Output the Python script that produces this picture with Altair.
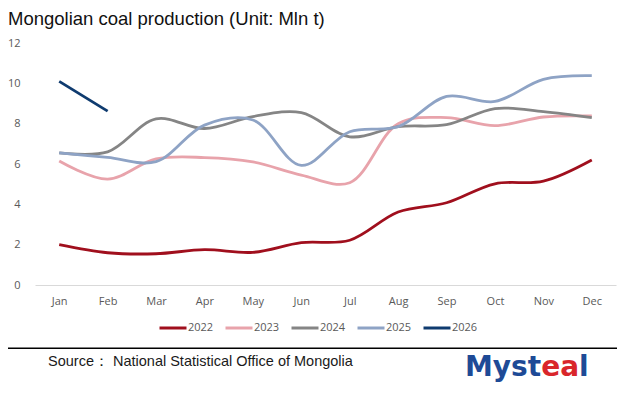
import altair as alt
import pandas as pd

months = ["Jan", "Feb", "Mar", "Apr", "May", "Jun", "Jul", "Aug", "Sep", "Oct", "Nov", "Dec"]
years = ["2022", "2023", "2024", "2025", "2026"]
v2022 = [2.0, 1.6, 1.55, 1.75, 1.62, 2.1, 2.22, 3.62, 4.08, 5.02, 5.15, 6.2]
v2023 = [6.15, 5.25, 6.25, 6.32, 6.1, 5.45, 5.07, 8.0, 8.3, 7.9, 8.33, 8.38]
v2024 = [6.55, 6.6, 8.24, 7.76, 8.35, 8.55, 7.35, 7.85, 7.95, 8.75, 8.6, 8.3]
v2025 = [6.55, 6.33, 6.12, 7.93, 8.18, 5.93, 7.6, 7.85, 9.35, 9.1, 10.2, 10.38]
v2026 = [10.1, 8.62]
colors = ["#a00f1d", "#e8a3ab", "#858585", "#8ea3c5", "#0f3b6f"]

series = [v2022, v2023, v2024, v2025, v2026]
rows = []
for yr, vals in zip(years, series):
    for m, v in zip(months, vals):
        rows.append({"month": m, "year": yr, "value": v})
df = pd.DataFrame(rows)

W, H = 581, 242

lines = alt.Chart(df).mark_line(interpolate="catmull-rom", strokeWidth=2.8).encode(
    x=alt.X("month:N", sort=months,
            scale=alt.Scale(type="point", padding=0.5),
            axis=alt.Axis(title=None, labelAngle=0, ticks=False, domainColor="#d9d9d9",
                          domainWidth=1, labelFont="Open Sans", labelFontSize=11,
                          labelColor="#595959", labelPadding=10, grid=False)),
    y=alt.Y("value:Q", scale=alt.Scale(domain=[0, 12]),
            axis=alt.Axis(title=None, values=[0, 2, 4, 6, 8, 10, 12], ticks=False, domain=False,
                          grid=False, labelFont="Open Sans", labelFontSize=11,
                          labelColor="#595959", labelPadding=15)),
    color=alt.Color("year:N", sort=years,
                    scale=alt.Scale(domain=years, range=colors),
                    legend=alt.Legend(title=None, orient="none", direction="horizontal",
                                      legendX=123, legendY=270, padding=0,
                                      symbolType="stroke", symbolSize=729,
                                      symbolStrokeWidth=3, labelOffset=0,
                                      columnPadding=5, labelFont="Open Sans",
                                      labelFontSize=11, labelColor="#595959")),
    detail="year:N",
)

title_df = pd.DataFrame({"t": ["Mongolian coal production (Unit: Mln t)"]})
title = alt.Chart(title_df).mark_text(
    align="left", baseline="alphabetic", font="Liberation Sans", fontSize=18.5, color="#111111"
).encode(x=alt.value(-27), y=alt.value(-18.3), text="t:N")

src_df = pd.DataFrame({"t": ["Source： National Statistical Office of Mongolia"]})
source = alt.Chart(src_df).mark_text(
    align="left", baseline="alphabetic", font="Liberation Sans", fontSize=14.5, color="#1a1a1a"
).encode(x=alt.value(13), y=alt.value(322.5), text="t:N")

rule = alt.Chart(pd.DataFrame({"a": [0]})).mark_rule(color="#000000", strokeWidth=1.5).encode(
    x=alt.value(-27), x2=alt.value(582), y=alt.value(305.3)
)

logo1 = alt.Chart(pd.DataFrame({"t": ["Myst"]})).mark_text(
    align="left", baseline="alphabetic", font="DejaVu Sans", fontWeight="bold", fontSize=28,
    color="#1e4a96").encode(x=alt.value(430), y=alt.value(332.7), text="t:N")
logo2 = alt.Chart(pd.DataFrame({"t": ["ea"]})).mark_text(
    align="left", baseline="alphabetic", font="DejaVu Sans", fontWeight="bold", fontSize=28,
    color="#d9262b").encode(x=alt.value(506.2), y=alt.value(332.7), text="t:N")
logo3 = alt.Chart(pd.DataFrame({"t": ["l"]})).mark_text(
    align="left", baseline="alphabetic", font="DejaVu Sans", fontWeight="bold", fontSize=28,
    color="#1e4a96").encode(x=alt.value(544.1), y=alt.value(332.7), text="t:N")

chart = alt.layer(lines, title, source, rule, logo1, logo2, logo3).properties(
    width=W, height=H,
    autosize=alt.AutoSizeParams(type="none"),
    padding={"left": 27, "top": 35, "right": 1, "bottom": 100},
    background="white",
).configure_view(stroke=None)

chart.save("out.html", embed_options={"renderer": "svg", "actions": False})
